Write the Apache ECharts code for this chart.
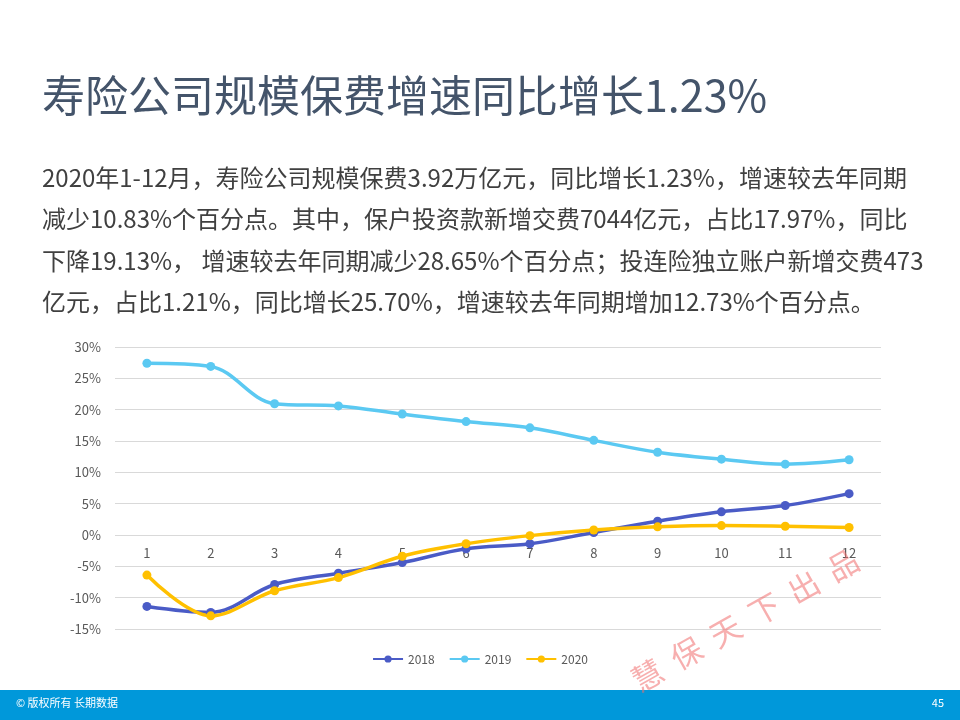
<!DOCTYPE html>
<html><head><meta charset="utf-8">
<script src="https://cdn.jsdelivr.net/npm/echarts@6/dist/echarts.min.js"></script>
<style>html,body{margin:0;padding:0;background:#fff}#c{width:960px;height:720px}</style>
</head><body><div id="c"></div>
<script>
const months = ['1','2','3','4','5','6','7','8','9','10','11','12'];
const s2018 = [-11.4, -12.35, -7.9, -6.1, -4.4, -2.2, -1.4, 0.4, 2.2, 3.7, 4.7, 6.6];
const s2019 = [27.4, 26.9, 20.95, 20.6, 19.3, 18.1, 17.1, 15.1, 13.2, 12.1, 11.3, 12.0];
const s2020 = [-6.4, -12.9, -8.9, -6.8, -3.4, -1.4, -0.1, 0.8, 1.3, 1.5, 1.4, 1.2];
const seriesNames = ['2018', '2019', '2020'];
const titleText = '寿险公司规模保费增速同比增长1.23%';
const bodyLines = [
  '2020年1-12月，寿险公司规模保费3.92万亿元，同比增长1.23%，增速较去年同期',
  '减少10.83%个百分点。其中，保户投资款新增交费7044亿元，占比17.97%，同比',
  '下降19.13%， 增速较去年同期减少28.65%个百分点；投连险独立账户新增交费473',
  '亿元，占比1.21%，同比增长25.70%，增速较去年同期增加12.73%个百分点。'
];
const watermark = '慧  保  天  下  出  品';
const footerLeft = '© 版权所有 长期数据';
const pageNo = '45';

const colors = ['#4A5BC6', '#5BC9F2', '#FFC000'];
const chart = echarts.init(document.getElementById('c'));
const font = '"Noto Sans CJK SC", "Noto Sans", sans-serif';

const graphics = [
  {type:'text', left:42, top:74, style:{text:titleText, font:'43px ' + font, fill:'#44546A'}},
  {type:'rect', left:0, top:690, shape:{width:960, height:30}, style:{fill:'#0098DA'}},
  {type:'text', left:16, top:697, style:{text:footerLeft, font:'11px ' + font, fill:'#fff'}},
  {type:'text', right:16, top:697, style:{text:pageNo, font:'11px ' + font, fill:'#fff'}},
  {type:'text', x:745, y:620, rotation:Math.PI*29.5/180, z:100,
   style:{text:watermark, font:'31px ' + font, fill:'rgba(240,110,110,0.55)', align:'center', verticalAlign:'middle'}}
];
bodyLines.forEach((t, i) => {
  graphics.push({type:'text', left:42, top:166 + i*41.3, style:{text:t, font:'24px ' + font, fill:'#404040'}});
});

const mk = (name, data, color) => ({
  name, type:'line', data, smooth:0.35, symbol:'circle', symbolSize:9,
  lineStyle:{width:3.5, color}, itemStyle:{color}
});

chart.setOption({
  textStyle:{fontFamily:font},
  animation:false,
  grid:{left:115, right:79, top:347, bottom:91, containLabel:false},
  legend:{bottom:50, left:'center', itemWidth:30, itemHeight:9, itemGap:14,
    textStyle:{color:'#595959', fontSize:12}, data:seriesNames},
  xAxis:{type:'category', data:months, boundaryGap:true, position:'bottom', offset:-94.4,
    axisLine:{show:false, onZero:false}, axisTick:{show:false},
    axisLabel:{color:'#595959', fontSize:13, margin:12}},
  yAxis:{type:'value', min:-15, max:30, interval:5,
    axisLabel:{color:'#595959', fontSize:13, formatter:'{value}%', margin:14},
    splitLine:{lineStyle:{color:'#D9D9D9', width:1}},
    axisLine:{show:false}, axisTick:{show:false}},
  series:[mk(seriesNames[0], s2018, colors[0]), mk(seriesNames[1], s2019, colors[1]), mk(seriesNames[2], s2020, colors[2])],
  graphic:graphics
});
</script></body></html>
